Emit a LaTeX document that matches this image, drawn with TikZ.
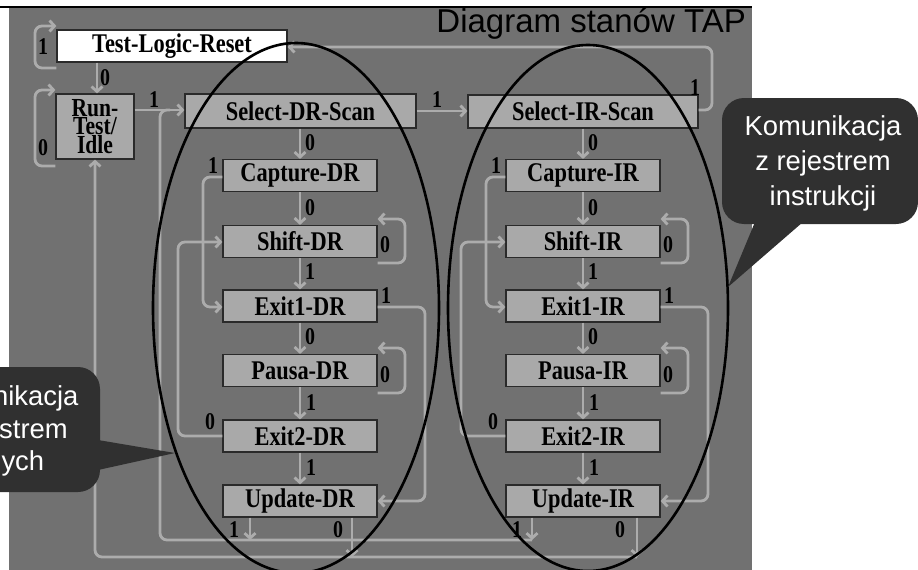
\documentclass[tikz,border=0pt]{standalone}
\usepackage{fontspec}
\setmainfont{Liberation Sans}
\newfontfamily\stfont{Liberation Serif}[FakeStretch=0.83]
\usetikzlibrary{arrows.meta}
\definecolor{panelc}{HTML}{717171}
\definecolor{connc}{HTML}{ACACAC}
\definecolor{boxc}{HTML}{A9A9A9}
\definecolor{edgec}{HTML}{2A2A2A}
\definecolor{callc}{HTML}{303030}
\begin{document}
\begin{tikzpicture}[x=1pt,y=-1pt,
 stbox/.style={draw=edgec, fill=boxc, line width=1.2pt, inner sep=0pt, minimum width=154pt, minimum height=32pt, font=\stfont\bfseries\fontsize{27}{27}\selectfont},
 lbl/.style={inner sep=0pt, font=\stfont\bfseries\fontsize{24}{24}\selectfont},
 conn/.style={draw=connc, line width=2.8pt, rounded corners=7pt},
 arr/.style={conn, -{Straight Barb[length=5pt,width=11pt]}},
 calltext/.style={anchor=base, inner sep=0pt, text=white, font=\fontsize{27.4}{27.4}\selectfont},
 ellip/.style={draw=black, line width=2.6pt}
]
\useasboundingbox (0,0) rectangle (918,570);
\clip (0,0) rectangle (918,570);
\fill[panelc] (9,7) rectangle (752,570);
\draw[black, line width=1.5pt] (0,7) -- (752,7);
\node[anchor=base east, inner sep=0pt, font=\fontsize{33}{33}\selectfont] (title) at (746,32) {Diagram stanów TAP};

% states
\node[stbox, fill=white, minimum width=230pt] (tlr) at (172,46) {Test-Logic-Reset};
\node[stbox, minimum width=78pt, minimum height=65pt, align=center, font=\stfont\bfseries\fontsize{26}{18.5}\selectfont] (rti) at (95,126.5) {Run-\\Test/\\Idle};
\node[stbox, minimum width=231pt, minimum height=34pt] (selD) at (300.5,111) {Select-DR-Scan};
\node[stbox, minimum width=230pt, minimum height=33pt] (selI) at (583,111.5) {Select-IR-Scan};

\foreach \col/\dx in {D/0,I/283}{
  \node[stbox] (cap\col) at (300+\dx,175.5) {Capture-\col R};
  \node[stbox] (sh\col) at (300+\dx,241.5) {Shift-\col R};
  \node[stbox] (ex1\col) at (300+\dx,306) {Exit1-\col R};
  \node[stbox] (pa\col) at (300+\dx,370.5) {Pausa-\col R};
  \node[stbox] (ex2\col) at (300+\dx,436) {Exit2-\col R};
  \node[stbox] (up\col) at (300+\dx,501) {Update-\col R};
  % connectors
  \draw[arr] (cap\col.north |- sel\col.south) -- (cap\col.north);
  \draw[arr] (cap\col.south) -- (sh\col.north);
  \draw[arr] (sh\col.south) -- (ex1\col.north);
  \draw[arr] (ex1\col.south) -- (pa\col.north);
  \draw[arr] (pa\col.south) -- (ex2\col.north);
  \draw[arr] (ex2\col.south) -- (up\col.north);
  \draw[arr] (cap\col.west |- 0,177) -- (203+\dx,177) -- (203+\dx,307) -- (ex1\col.west |- 0,307);
  \draw[arr] (sh\col.east |- 0,263) -- (405+\dx,263) -- (405+\dx,219) -- (sh\col.east |- 0,219);
  \draw[arr] (ex1\col.east |- 0,307) -- (425+\dx,307) -- (425+\dx,501) -- (up\col.east |- 0,501);
  \draw[arr] (pa\col.east |- 0,393) -- (405+\dx,393) -- (405+\dx,348) -- (pa\col.east |- 0,348);
  \draw[arr] (ex2\col.west |- 0,436) -- (178+\dx,436) -- (178+\dx,242) -- (sh\col.west |- 0,242);
  % labels
  \node[lbl] (la\col) at (310+\dx,143) {0};
  \node[lbl] (lb\col) at (213+\dx,166) {1};
  \node[lbl] (lc\col) at (310+\dx,208) {0};
  \node[lbl] (ld\col) at (385+\dx,245) {0};
  \node[lbl] (le\col) at (310+\dx,272) {1};
  \node[lbl] (lf\col) at (386+\dx,296) {1};
  \node[lbl] (lg\col) at (310+\dx,337) {0};
  \node[lbl] (lh\col) at (385+\dx,375) {0};
  \node[lbl] (li\col) at (311+\dx,403) {1};
  \node[lbl] (lj\col) at (210+\dx,422) {0};
  \node[lbl] (lk\col) at (311+\dx,468) {1};
}

% top connectors
\draw[arr] (tlr.west |- 0,68) -- (35,68) -- (35,26) -- (tlr.west |- 0,26);
\draw[arr] (tlr.south -| 97,0) -- (rti.north -| 97,0);
\draw[arr] (rti.west |- 0,166) -- (35,166) -- (35,90) -- (rti.west |- 0,90);
\draw[arr] (rti.east |- 0,110) -- (selD.west |- 0,110);
\draw[arr] (selD.east |- 0,111) -- (selI.west |- 0,111);
\draw[arr] (selI.east |- 0,110) -- (712,110) -- (712,47) -- (tlr.east |- 0,47);
% bottom return lines
\coordinate (ja) at (532,540);
\coordinate (jb) at (637,557);
\draw[conn] (ja) -- (160,540) -- (160,110) -- (170,110);
\draw[arr] (jb) -- (95,557) -- (rti.south -| 95,0);
\draw[arr] (upD.south -| 250,0) -- (250,540);
\draw[arr] (upD.south -| 352,0) -- (352,557);
\draw[arr] (upI.south -| 532,0) -- (ja);
\draw[arr] (upI.south -| 637,0) -- (jb);

% other labels
\node[lbl] (m1) at (43,47) {1};
\node[lbl] (m2) at (105,78) {0};
\node[lbl] (m3) at (43,148) {0};
\node[lbl] (m4) at (154,100) {1};
\node[lbl] (m5) at (437,100) {1};
\node[lbl] (m6) at (695,88) {1};
\node[lbl] (m7) at (234,530) {1};
\node[lbl] (m8) at (338,530) {0};
\node[lbl] (m9) at (517,530) {1};
\node[lbl] (m10) at (620,530) {0};

% ellipses
\draw[ellip] (296,308) ellipse [x radius=143pt, y radius=265pt];
\draw[ellip] (588,308) ellipse [x radius=140pt, y radius=263pt];

% callouts
\fill[callc, rounded corners=22pt] (-100,367) rectangle (100,492);
\fill[callc] (98,440) -- (175,453) -- (98,470) -- cycle;
\fill[callc, rounded corners=22pt] (722,98) rectangle (918,224);
\fill[callc] (755,222) -- (728,287) -- (803,222) -- cycle;
\node[calltext] (r1) at (823,135) {Komunikacja};
\node[calltext] (r2) at (823,170) {z rejestrem};
\node[calltext] (r3) at (823,205) {instrukcji};
\node[calltext] (q1) at (0,405) {Komunikacja};
\node[calltext] (q2) at (0,438) {z rejestrem};
\node[calltext] (q3) at (0,470) {danych};
\end{tikzpicture}
\end{document}
